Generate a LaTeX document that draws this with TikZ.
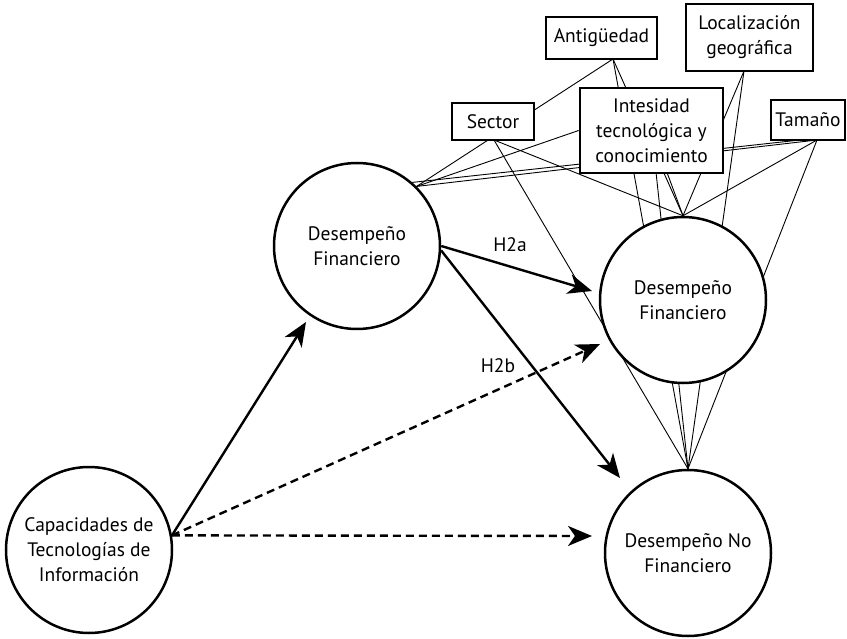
\documentclass[tikz,border=0pt]{standalone}
\usepackage{fontspec}
\setmainfont{PT Sans}
\usetikzlibrary{arrows.meta}
\pgfdeclarelayer{background}
\pgfdeclarelayer{paper}
\pgfsetlayers{paper,background,main}
\begin{document}
\begin{tikzpicture}[x=1pt,y=-1pt,
  thinline/.style={line width=0.9pt},
  circ/.style={circle, draw, line width=2.5pt, fill=white, minimum size=166pt, inner sep=0pt, align=center, font=\fontsize{19.5}{25}\selectfont},
  box/.style={rectangle, draw, line width=2.8pt, fill=white, inner sep=0pt, align=center, font=\fontsize{19.5}{25}\selectfont},
  lbl/.style={inner sep=0pt, font=\fontsize{19.5}{25}\selectfont},
  arr/.style={line width=2.4pt, -{Stealth[length=24pt,width=20pt,inset=7pt]}},
  darr/.style={arr, dash pattern=on 8pt off 5pt},
]
\useasboundingbox (0,0) rectangle (847,639);
\begin{pgfonlayer}{paper}
  \fill[white] (0,0) rectangle (847,639);
\end{pgfonlayer}

% circles
\node[circ] (cap) at (89,550) {Capacidades de\\Tecnologías de\\Información};
\node[circ] (mid) at (357,246) {Desempeño\\Financiero};
\node[circ] (dfin) at (683,300) {Desempeño\\Financiero};
\node[circ] (dnf) at (688,553) {Desempeño No\\Financiero};

% boxes
\node[box, minimum width=111pt, minimum height=42pt] (ant) at (601.5,38) {Antigüedad};
\node[box, minimum width=127pt, minimum height=67pt] (loc) at (749.5,37.5) {Localización\\geográfica};
\node[box, minimum width=82pt, minimum height=37pt] (sec) at (493,121.5) {Sector};
\node[box, minimum width=143pt, minimum height=85pt] (int) at (651.5,130.5) {Intesidad\\tecnológica y\\conocimiento};
\node[box, minimum width=74pt, minimum height=40pt] (tam) at (808,120) {Tamaño};

% junction coordinates
\coordinate (p1) at (mid.45);
\coordinate (p1b) at (mid.49);
\coordinate (p2) at (dfin.north);
\coordinate (p3) at (dnf.north);
\coordinate (aS) at (613,59);
\coordinate (sS) at (494,140);
\coordinate (lS) at (744,71);
\coordinate (tS) at (817,140);
\coordinate (tS2) at (800,140);

\begin{pgfonlayer}{background}
  \draw[thinline] (p1) -- (aS);
  \draw[thinline] (p1) -- (int.west);
  \draw[thinline] (p1) -- (tS);
  \draw[thinline] (p1b) -- (tS2);
  \draw[thinline] (sS) -- (p2);
  \draw[thinline] (sS) -- (p3);
  \draw[thinline] (aS) -- (p2);
  \draw[thinline] (aS) -- (p3);
  \draw[thinline] (int.center) -- (p2);
  \draw[thinline] (int.center) -- (p3);
  \draw[thinline] (lS) -- (p2);
  \draw[thinline] (lS) -- (p3);
  \draw[thinline] (tS) -- (p2);
  \draw[thinline] (tS) -- (p3);
\end{pgfonlayer}

% arrow end points
\coordinate (tipA) at (306,322);
\coordinate (tipB) at (600,344);
\coordinate (tipC) at (592,536);
\coordinate (tipD) at (592,291);
\coordinate (tipE) at (620,478);

\draw[arr] (cap.10) -- (tipA);
\draw[darr] (cap.10) -- (tipB);
\draw[darr] (cap.10) -- (tipC);
\draw[arr] (mid.east) -- (tipD);
\draw[arr] (mid.-3) -- (tipE);

\node[lbl] (h2a) at (510,245) {H2a};
\node[lbl] (h2b) at (498,366) {H2b};
\end{tikzpicture}
\end{document}
